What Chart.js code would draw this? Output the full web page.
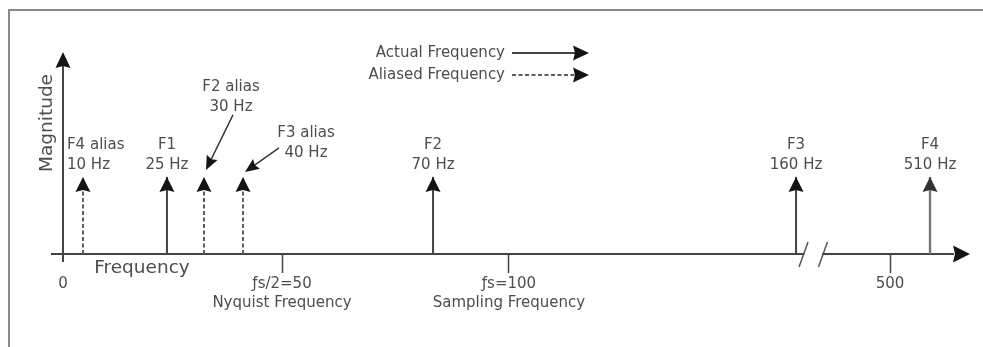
<!DOCTYPE html>
<html>
<head>
<meta charset="utf-8">
<script src="https://cdn.jsdelivr.net/npm/chart.js@4/dist/chart.umd.min.js"></script>
<style>
html,body{margin:0;padding:0;background:#fff;overflow:hidden}
#wrap{width:983px;height:347px;position:relative}
</style>
</head>
<body>
<div id="wrap"><canvas id="c" width="983" height="347"></canvas></div>
<script>
// ---------------- data ----------------
const seriesNames   = ['Actual Frequency', 'Aliased Frequency'];
const actualNames   = ['F1', 'F2', 'F3', 'F4'];
const actualFreqs   = [25, 70, 160, 510];          // Hz
const actualMags    = [1, 1, 1, 1];
const aliasNames    = ['F4 alias', 'F2 alias', 'F3 alias'];
const aliasFreqs    = [10, 30, 40];                // Hz
const aliasMags     = [1, 1, 1];
const tickValues    = [0, 50, 100, 500];
const tickLabels    = ['0', ['\u0192s/2=50', 'Nyquist Frequency'], ['\u0192s=100', 'Sampling Frequency'], '500'];
const axisTitleX    = 'Frequency';
const axisTitleY    = 'Magnitude';
const axisBreak     = [165, 490];                  // broken-axis span (Hz)

// ---------------- schematic (not-to-scale) axis ----------------
// knots: [frequency, fraction of axis length]
const knots = [[-2.5,0],[0,0.0122],[10,0.0344],[25,0.1276],[30,0.1687],[40,0.2120],[50,0.2553],
  [70,0.4229],[100,0.5072],[160,0.8258],[165,0.8341],[490,0.8557],[500,0.9301],[510,0.9745],[520,1]];
function toDecimal(v){
  for (let i=0;i<knots.length-1;i++){
    const a=knots[i], b=knots[i+1];
    if (v<=b[0] || i===knots.length-2) return a[1]+(v-a[0])*(b[1]-a[1])/(b[0]-a[0]);
  }
}
function fromDecimal(d){
  for (let i=0;i<knots.length-1;i++){
    const a=knots[i], b=knots[i+1];
    if (d<=b[1] || i===knots.length-2) return a[0]+(d-a[1])*(b[0]-a[0])/(b[1]-a[1]);
  }
}
class SchematicScale extends Chart.LinearScale {
  buildTicks(){ return tickValues.map(v=>({value:v})); }
  getPixelForValue(v){ return this.getPixelForDecimal(toDecimal(v)); }
  getValueForPixel(p){ return fromDecimal(this.getDecimalForPixel(p)); }
}
SchematicScale.id = 'schematic';
SchematicScale.defaults = Chart.LinearScale.defaults;
Chart.register(SchematicScale);

function stems(freqs, mags){
  const pts=[];
  freqs.forEach((f,i)=>{ pts.push({x:f,y:0},{x:f,y:mags[i]},{x:f,y:null}); });
  return pts;
}

const FONT = 'DejaVu Sans';
const TEXT = '#4d4d4d';
const INK  = '#141414';
const LINE = '#444';
const DASH = '#5e5e5e';

// label placement relative to each stem's arrow tip (style only)
const labelStyle = {
  'F4 alias': {dx:-16, dy:0, align:'left'},
  'F2 alias': {dx:27, dy:-58, leader:{from:[2,8], to:[2,-7]}},
  'F3 alias': {dx:63, dy:-12, leader:{from:[-27,-5], to:[2,-5]}}
};

function arrowHead(ctx, tx, ty, dx, dy, len, half){
  const n=Math.hypot(dx,dy); dx/=n; dy/=n;
  const bx=tx-dx*len, by=ty-dy*len, px=-dy, py=dx;
  ctx.beginPath();
  ctx.moveTo(tx,ty);
  ctx.lineTo(bx+px*half, by+py*half);
  ctx.lineTo(bx+dx*2, by+dy*2);
  ctx.lineTo(bx-px*half, by-py*half);
  ctx.closePath();
  ctx.fill();
}

const diagramPlugin = {
  id:'diagram',
  beforeDraw(chart){
    const ctx=chart.ctx;
    ctx.save();
    ctx.fillStyle='#fff';
    ctx.fillRect(0,0,chart.width,chart.height);
    ctx.strokeStyle='#8a8a8a';
    ctx.lineWidth=2;
    ctx.strokeRect(9,10,1000,400);
    ctx.restore();
  },
  afterDraw(chart){
    const ctx=chart.ctx, xs=chart.scales.x, ys=chart.scales.y, ca=chart.chartArea;
    const X=v=>xs.getPixelForValue(v), Y=v=>ys.getPixelForValue(v);
    const y0=Y(0);
    ctx.save();

    // axis break
    const b1=X(axisBreak[0]), b2=X(axisBreak[1]);
    ctx.fillStyle='#fff';
    ctx.fillRect(b1+1, y0-3, b2-b1-2, 6);
    ctx.strokeStyle='#555'; ctx.lineWidth=1.5;
    [b1,b2].forEach(bx=>{ ctx.beginPath(); ctx.moveTo(bx-4.5,y0+13); ctx.lineTo(bx+4.5,y0-12); ctx.stroke(); });

    // x-axis arrow
    ctx.fillStyle=INK;
    arrowHead(ctx, ca.right+17, y0, 1, 0, 17, 8.5);

    // y-axis with arrow
    const x0=X(0);
    ctx.strokeStyle=LINE; ctx.lineWidth=2;
    ctx.beginPath(); ctx.moveTo(x0, y0+8); ctx.lineTo(x0, ca.top+10); ctx.stroke();
    ctx.fillStyle=INK;
    arrowHead(ctx, x0, ca.top, 0, -1, 16, 7.5);

    // arrowheads on stems
    const groups=[[actualNames,actualFreqs,actualMags],[aliasNames,aliasFreqs,aliasMags]];
    groups.forEach(([names,freqs,mags])=>{
      freqs.forEach((f,i)=>{
        ctx.fillStyle = f>=500 ? '#333' : INK;
        arrowHead(ctx, X(f), Y(mags[i]), 0, -1, 15, 7.5);
      });
    });

    // stem labels
    ctx.font='15px "'+FONT+'"';
    ctx.textBaseline='middle';
    groups.forEach(([names,freqs,mags])=>{
      freqs.forEach((f,i)=>{
        const tx=X(f), ty=Y(mags[i]);
        const st=labelStyle[names[i]]||{dx:0,dy:0};
        const cx=tx+st.dx, l1=ty-32+st.dy, l2=ty-12+st.dy;
        ctx.fillStyle=TEXT;
        ctx.textAlign=st.align||'center';
        ctx.fillText(names[i], cx, l1);
        ctx.fillText(f+' Hz', cx, l2);
        if (st.leader){
          const sx=cx+st.leader.from[0], sy=l2+st.leader.from[1];
          const ex=tx+st.leader.to[0], ey=ty+st.leader.to[1];
          ctx.strokeStyle='#333'; ctx.lineWidth=1.4;
          const d=Math.hypot(ex-sx,ey-sy), ux=(ex-sx)/d, uy=(ey-sy)/d;
          ctx.beginPath(); ctx.moveTo(sx,sy); ctx.lineTo(ex-ux*10, ey-uy*10); ctx.stroke();
          ctx.fillStyle=INK;
          arrowHead(ctx, ex, ey, ux, uy, 14, 6);
        }
      });
    });

    // axis titles
    ctx.fillStyle=TEXT;
    ctx.font='18.5px "'+FONT+'"';
    ctx.textAlign='center';
    ctx.fillText(axisTitleX, x0+79, y0+14);
    ctx.save();
    ctx.translate(x0-16, ca.top+71);
    ctx.rotate(-Math.PI/2);
    ctx.fillText(axisTitleY, 0, 0);
    ctx.restore();

    // legend
    ctx.font='15px "'+FONT+'"';
    ctx.textAlign='right';
    const ly=[53,75];
    seriesNames.forEach((name,i)=>{
      ctx.fillStyle=TEXT;
      ctx.fillText(name, 505, ly[i]);
      ctx.strokeStyle=i===0?LINE:DASH; ctx.lineWidth=2;
      ctx.setLineDash(i===0?[]:[4,2.5]);
      ctx.beginPath(); ctx.moveTo(512, ly[i]); ctx.lineTo(575, ly[i]); ctx.stroke();
      ctx.setLineDash([]);
      ctx.fillStyle=INK;
      arrowHead(ctx, 589, ly[i], 1, 0, 16, 7.5);
    });
    ctx.restore();
  }
};

new Chart(document.getElementById('c'), {
  type:'line',
  data:{
    datasets:[
      {label:seriesNames[0], data:stems(actualFreqs,actualMags), borderColor:LINE, borderWidth:2,
       pointRadius:0, spanGaps:false, clip:false,
       segment:{borderColor:c=>c.p0.parsed.x>=500?'#777':undefined, borderWidth:c=>c.p0.parsed.x>=500?2.4:undefined}},
      {label:seriesNames[1], data:stems(aliasFreqs,aliasMags), borderColor:DASH, borderWidth:2,
       borderDash:[4,2.5], pointRadius:0, spanGaps:false, clip:false}
    ]
  },
  options:{
    responsive:false, animation:false, events:[],
    layout:{padding:{left:52, right:30, top:52, bottom:0}},
    plugins:{legend:{display:false}, tooltip:{enabled:false}, title:{display:false}},
    scales:{
      x:{
        type:'schematic', min:-2.5, max:520,
        border:{display:true, color:LINE, width:2},
        grid:{drawOnChartArea:false, drawTicks:true, tickLength:19, tickWidth:1.5,
              tickColor:c=>(c.tick && c.tick.value===0)?'rgba(0,0,0,0)':'#444'},
        ticks:{autoSkip:false, maxRotation:0, minRotation:0, padding:2, color:TEXT,
               font:{family:FONT, size:15, lineHeight:1.25},
               callback:(v,i)=>tickLabels[i]},
        afterFit:s=>{ s.height=93; }
      },
      y:{display:false, min:0, max:2.62}
    }
  },
  plugins:[diagramPlugin]
});
</script>
</body>
</html>
